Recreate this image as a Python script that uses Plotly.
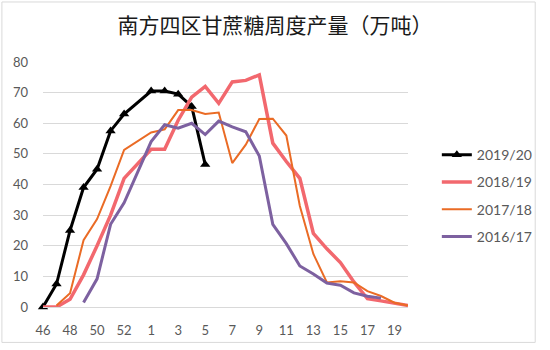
import plotly.graph_objects as go

# Week labels of the crushing season (week 53 carries no data)
weeks = ["46", "47", "48", "49", "50", "51", "52", "53"] + [str(w) for w in range(1, 21)]
tick_weeks = ["46", "48", "50", "52", "1", "3", "5", "7", "9", "11", "13", "15", "17", "19"]

# Weekly cane-sugar output, 10k tonnes
s2019_20 = [0, 7.5, 25, 39, 45, 57.5, 63, None,
            70.5, 70.5, 69.5, 65.5, 46.5] + [None] * 15
s2018_19 = [0, 0, 2.5, 10.5, 20, 30, 42, None,
            51.5, 51.5, 61, 68.5, 72, 66.5, 73.5, 74, 75.8, 53.5,
            47.5, 42, 24, 19, 14.5, 8.2, 2.7, 2, 1.2, 0.5]
s2017_18 = [None, 0.5, 4.5, 21.8, 28.7, 39.5, 51.3, None,
            57, 58, 64.3, 64.3, 63, 63.5, 47, 53, 61.4, 61.5,
            56, 33, 17.3, 8, 8.4, 8, 5.2, 3.6, 1.4, 0.5]
s2016_17 = [None, None, None, 1.5, 9.2, 27, 34, None,
            54, 59.5, 58.4, 60, 56.3, 60.7, 58.8, 57.2, 49.3, 27,
            20.7, 13.4, 10.8, 7.8, 7.1, 4.6, 3.5, 2.9, None, None]

series = [
    ("2019/20", s2019_20, "#000000", 3, True),
    ("2018/19", s2018_19, "#F2686E", 3.5, False),
    ("2017/18", s2017_18, "#EA6B25", 2, False),
    ("2016/17", s2016_17, "#7D61A0", 3, False),
]

fig = go.Figure()
for i, (name, vals, color, width, markers) in enumerate(series):
    fig.add_trace(go.Scatter(
        x=weeks, y=vals, name=name,
        mode="lines+markers" if markers else "lines",
        line=dict(color=color, width=width),
        marker=dict(symbol="triangle-up", size=9, color=color),
        connectgaps=True, cliponaxis=False,
        legendgroup=name,
    ))

tick_font = dict(family="Lato, 'Liberation Sans', sans-serif", size=13, color="#595959")

fig.update_layout(
    width=550, height=350,
    margin=dict(l=43, r=134, t=62, b=39),
    paper_bgcolor="white", plot_bgcolor="white",
    title=dict(
        text="南方四区甘蔗糖周度产量（万吨）",
        x=0.5, xref="container", xanchor="center",
        y=1 - 26 / 350, yref="container", yanchor="middle",
        font=dict(family="Noto Sans CJK SC", size=21, color="#1a1a1a"),
    ),
    xaxis=dict(
        type="category", categoryorder="array", categoryarray=weeks,
        range=[0, len(weeks) - 1],
        tickmode="array", tickvals=tick_weeks, ticktext=tick_weeks,
        showgrid=False, showline=True, linecolor="#d9d9d9", linewidth=1,
        ticks="", tickfont=tick_font, ticklabelstandoff=11, zeroline=False,
    ),
    yaxis=dict(
        range=[0, 80], dtick=10, showgrid=True, gridcolor="#d9d9d9", gridwidth=1,
        zeroline=False, showline=False, ticks="", tickfont=tick_font,
        ticklabelstandoff=14,
    ),
    legend=dict(
        x=1.079, xanchor="left", y=0.685, yanchor="top",
        traceorder="grouped", tracegroupgap=6,
        font=dict(family="Lato, 'Liberation Sans', sans-serif", size=14, color="#595959"),
        bgcolor="rgba(0,0,0,0)",
    ),
    showlegend=True,
)

# Chart-area frame
fig.add_shape(type="rect", xref="paper", yref="paper",
              x0=(1 - 43) / 373, x1=(546 - 43) / 373,
              y0=(311 - 347) / 249, y1=(311 - 1) / 249,
              line=dict(color="#d9d9d9", width=1), layer="below")

fig.write_html("out.html")
